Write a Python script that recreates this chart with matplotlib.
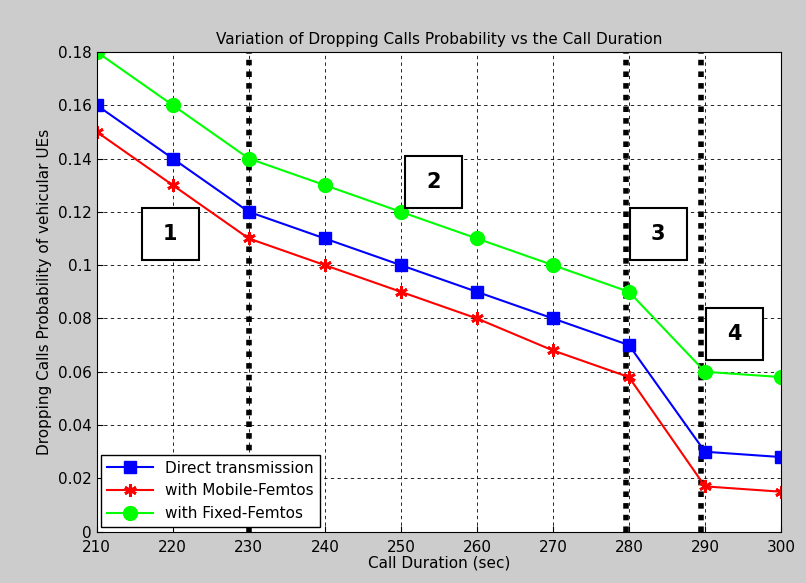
import matplotlib.pyplot as plt
from matplotlib.patches import Rectangle

# data
durations = [210, 220, 230, 240, 250, 260, 270, 280, 290, 300]
direct = [0.16, 0.14, 0.12, 0.11, 0.10, 0.09, 0.08, 0.07, 0.03, 0.028]
mobile = [0.15, 0.13, 0.11, 0.10, 0.09, 0.08, 0.068, 0.058, 0.017, 0.015]
fixed = [0.18, 0.16, 0.14, 0.13, 0.12, 0.11, 0.10, 0.09, 0.06, 0.058]

region_edges = [230, 279.6, 289.5]
region_labels = ['1', '2', '3', '4']

xticks = list(range(210, 301, 10))
yticks = [0, 0.02, 0.04, 0.06, 0.08, 0.1, 0.12, 0.14, 0.16, 0.18]
ytick_labels = ['0', '0.02', '0.04', '0.06', '0.08', '0.1', '0.12', '0.14', '0.16', '0.18']

fig = plt.figure(figsize=(8.06, 5.83), dpi=100, facecolor='#cccccc')
ax = fig.add_axes([0.120, 0.088, 0.849, 0.823])

ax.plot(durations, direct, color='blue', marker='s', markersize=9, lw=1.5, label='Direct transmission')
ax.plot(durations, mobile, color='red', marker=(6, 2, 0), markersize=9, mew=2, lw=1.5, label='with Mobile-Femtos')
ax.plot(durations, fixed, color='#00ff00', marker='o', markersize=10, lw=1.5, label='with Fixed-Femtos')

for xe in region_edges:
    ax.axvline(xe, color='black', lw=4, linestyle=(0, (1, 1.1)), zorder=1)

# numbered boxes: lower-left corner in data coords
box_corners = [(215.9, 0.1018), (250.6, 0.1213), (280.1, 0.1018), (290.1, 0.0643)]
bw, bh = 7.5, 0.0195
for lab, (x0, y0) in zip(region_labels, box_corners):
    ax.add_patch(Rectangle((x0, y0), bw, bh, fc='white', ec='black', lw=1.5, zorder=5))
    ax.text(x0 + bw / 2, y0 + bh / 2, lab, fontsize=15, fontweight='bold',
            ha='center', va='center', zorder=6)

ax.set_xlim(210, 300)
ax.set_ylim(0, 0.18)
ax.set_xticks(xticks)
ax.set_yticks(yticks)
ax.set_yticklabels(ytick_labels)
ax.tick_params(labelsize=11, direction='in', length=4)
ax.tick_params(axis='x', pad=6)
ax.grid(True, color='black', linestyle=(0, (4, 4)), lw=0.6)
ax.set_axisbelow(True)

ax.set_title('Variation of Dropping Calls Probability vs the Call Duration', fontsize=11)
ax.set_xlabel('Call Duration (sec)', fontsize=11, labelpad=0)
ax.set_ylabel('Dropping Calls Probability of vehicular UEs', fontsize=11)

leg = ax.legend(loc='lower left', fontsize=11, fancybox=False, framealpha=1, edgecolor='black',
                handlelength=3, borderaxespad=0.3)
leg.get_frame().set_linewidth(1)

fig.savefig('out.png', dpi=100, facecolor=fig.get_facecolor())
